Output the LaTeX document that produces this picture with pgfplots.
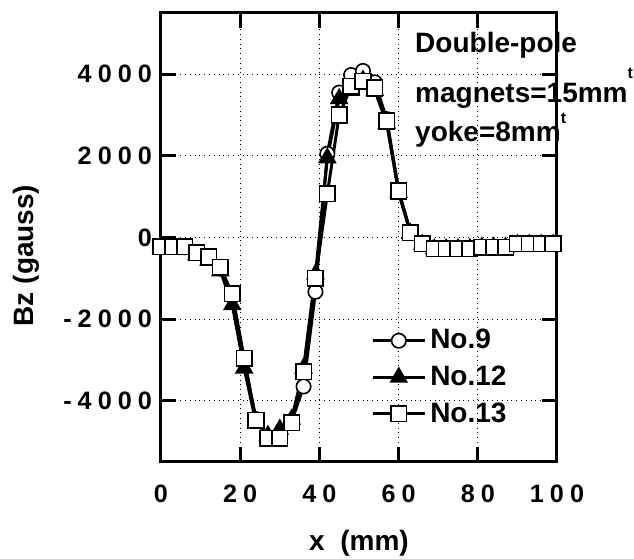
\documentclass[border=0pt]{standalone}
\usepackage{fontspec}
\setmainfont{Liberation Sans}
\newfontfamily\tickfont[LetterSpace=24]{Liberation Sans}
\usepackage{pgfplots}
\pgfplotsset{compat=1.18}
\usetikzlibrary{calc}

% Bz along x for three magnets
\pgfplotstableread{
x     b9     b12    b13
0    -230   -230   -230
3    -230   -260   -230
6    -240   -280   -230
9    -380   -420   -370
12   -500   -560   -480
15   -760   -820   -730
18   -1420  -1650  -1380
21   -3050  -3200  -2960
24   -4450  -4550  -4480
27   -4900  -4850  -4920
30   -4850  -4700  -4920
33   -4500  -4450  -4540
36   -3650  -3200  -3285
39   -1330  -900   -1000
42    2050   1950   1070
45    3550   3400   3000
48    3980   3600   3700
51    4080   3850   3830
54    3800   3600   3660
57    2900   2800   2855
60    1150   1100   1140
63    130    100    120
66   -150   -170   -155
69   -270   -280   -276
72   -270   -280   -276
75   -270   -280   -276
78   -260   -270   -276
81   -230   -240   -236
84   -230   -240   -236
87   -230   -240   -236
90   -160   -170   -155
93   -160   -170   -155
96   -160   -170   -155
99   -160   -170   -155
}\bzdata

\begin{document}
\begin{tikzpicture}
\begin{axis}[
    scale only axis, width=198pt, height=224.5pt,
    xmin=0, xmax=100, ymin=-5500, ymax=5500,
    clip=false,
    xtick={0,20,...,100}, ytick={-4000,-2000,...,4000},
    xticklabels={0,20,40,60,80,100},
    yticklabels={-4000,-2000,0,2000,4000},
    tick align=inside, major tick length=7.5pt,
    tick style={line width=1.5pt, black},
    axis line style={line width=1.5pt},
    grid=major, major grid style={dotted, line width=0.6pt, black},
    ticklabel style={font=\tickfont\bfseries\fontsize{12.6}{14}\selectfont},
    xticklabel style={yshift=-8pt},
    yticklabel style={xshift=-1pt},
    xlabel={x\ \ (mm)}, ylabel={Bz (gauss)},
    label style={font=\bfseries\fontsize{14}{16}\selectfont},
    xlabel style={at={(axis description cs:0.5,-0.18)}, anchor=center},
    ylabel style={at={(axis description cs:-0.34,0.46)}, anchor=center},
    legend style={draw=none, fill=none, at={(axis description cs:0.53,0.305)},
        anchor=north west, font=\bfseries\fontsize{14}{16}\selectfont,
        row sep=3pt, inner sep=0pt,
        /tikz/every even column/.append style={column sep=22pt}},
    legend cell align=left,
    legend image code/.code={\draw[mark repeat=2,mark phase=2] plot coordinates {(0pt,0pt) (13pt,0pt) (26pt,0pt)};},
]
\addplot[black, line width=1.5pt, mark=*, mark size=3.6pt,
    mark options={fill=white, line width=0.8pt}] table[x=x, y=b9] {\bzdata};
\addplot[black, line width=1.5pt, mark=triangle*, mark size=3.9pt,
    mark options={fill=black}] table[x=x, y=b12] {\bzdata};
\addplot[black, line width=1.5pt, mark=square*, mark size=3.9pt,
    mark options={fill=white, line width=0.8pt}] table[x=x, y=b13] {\bzdata};
\legend{No.9, No.12, No.13}

\node[anchor=base west, font=\bfseries\fontsize{14}{16}\selectfont, inner sep=0pt]
    at (axis description cs:0.641,0.911) {Double-pole};
\node[anchor=base west, font=\bfseries\fontsize{14}{16}\selectfont, inner sep=0pt]
    at (axis description cs:0.641,0.800) {magnets=15mm\raisebox{12pt}{\fontsize{8}{8}\selectfont t}};
\node[anchor=base west, font=\bfseries\fontsize{14}{16}\selectfont, inner sep=0pt]
    at (axis description cs:0.641,0.713) {yoke=8mm\raisebox{9pt}{\fontsize{8}{8}\selectfont t}};
\end{axis}
\pgfresetboundingbox
\path[use as bounding box] ($(current axis.south west)+(-80.5pt,-48.5pt)$) rectangle ($(current axis.north east)+(38.5pt,6.5pt)$);
\end{tikzpicture}
\end{document}
